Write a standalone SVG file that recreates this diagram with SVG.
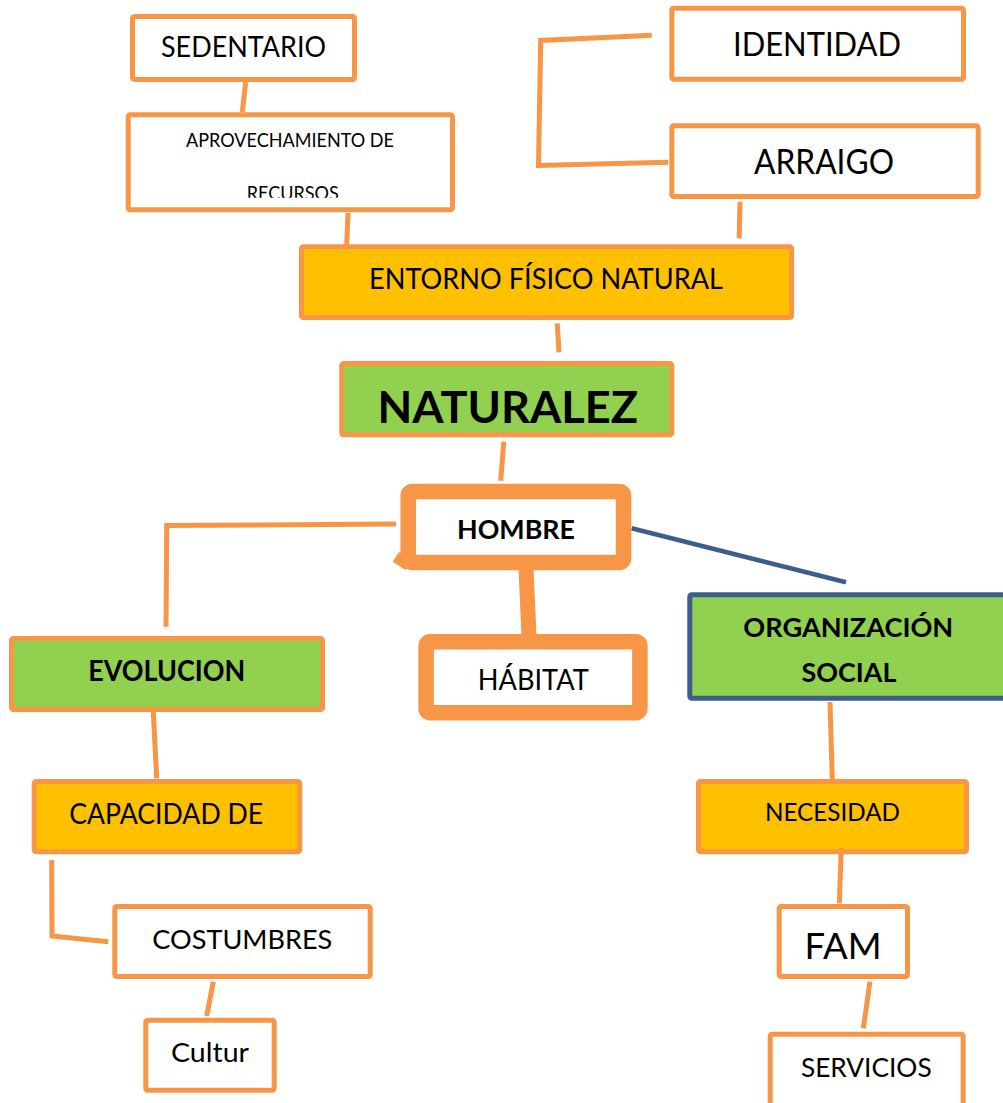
<svg xmlns="http://www.w3.org/2000/svg" width="1003" height="1103" viewBox="0 0 1003 1103">
<style>
.n{stroke:#F79646;stroke-width:5;fill:#FFFFFF}
.g{fill:#FFC000}
.v{fill:#92D050}
.thick{stroke-width:15.5}
.blue{stroke:#3B5E8C}
.t{font-family:Lato,"Open Sans","Liberation Sans",sans-serif;fill:#000;text-anchor:middle}
.b{font-weight:bold}
.c{fill:none;stroke:#F79646;stroke-width:5;stroke-linejoin:miter}
.ct{fill:none;stroke:#F79646;stroke-width:15}
.cb{fill:none;stroke:#3B5E8C;stroke-width:4.5}
</style>
<defs>
<clipPath id="clipRec"><rect x="130" y="150" width="320" height="47.7"/></clipPath>
<clipPath id="clipNat"><rect x="344" y="366" width="325" height="58.3"/></clipPath>
</defs>
<rect width="1003" height="1103" fill="#FFFFFF"/>
<g id="node-sedentario">
<rect class="n" x="132.5" y="16.5" width="222" height="63" rx="2"/>
<text class="t" x="243.5" y="57.3" font-size="28.7" textLength="165" lengthAdjust="spacingAndGlyphs">SEDENTARIO</text>
</g>
<g id="node-aprovechamiento">
<rect class="n" x="128.2" y="114.8" width="324.3" height="95" rx="2"/>
<text class="t" x="290" y="146.7" font-size="18.6" textLength="208" lengthAdjust="spacingAndGlyphs">APROVECHAMIENTO DE</text>
<text class="t" x="292.8" y="200" font-size="18.6" textLength="92" lengthAdjust="spacingAndGlyphs" clip-path="url(#clipRec)">RECURSOS</text>
</g>
<g id="node-identidad">
<rect class="n" x="671.8" y="8.2" width="291.7" height="71" rx="2"/>
<text class="t" x="817" y="56" font-size="33" textLength="168" lengthAdjust="spacingAndGlyphs">IDENTIDAD</text>
</g>
<g id="node-arraigo">
<rect class="n" x="671.8" y="125.8" width="306.4" height="70.7" rx="2"/>
<text class="t" x="824" y="174.3" font-size="34" textLength="140" lengthAdjust="spacingAndGlyphs">ARRAIGO</text>
</g>
<g id="node-entorno">
<rect class="n g" x="301.4" y="246.8" width="490.2" height="70.7" rx="2"/>
<text class="t" x="546" y="289.3" font-size="28.4" textLength="354" lengthAdjust="spacingAndGlyphs">ENTORNO FÍSICO NATURAL</text>
</g>
<g id="node-naturaleza">
<rect class="n v" x="341.7" y="363.5" width="330.1" height="71.3" rx="2"/>
<text class="t b" x="507.8" y="423.3" font-size="43.3" textLength="260.6" lengthAdjust="spacingAndGlyphs" clip-path="url(#clipNat)">NATURALEZ</text>
</g>
<g id="node-hombre">
<rect class="n thick" x="408.2" y="491.5" width="215.3" height="71" rx="4"/>
<polygon points="399,552 392.6,561.7 405.7,570 412,560" fill="#F79646"/>
<text class="t b" x="516" y="539.3" font-size="27" textLength="118" lengthAdjust="spacingAndGlyphs">HOMBRE</text>
</g>
<g id="node-habitat">
<rect class="n thick" x="426.1" y="641.8" width="213.8" height="71" rx="4"/>
<text class="t" x="533.3" y="690" font-size="28" textLength="111" lengthAdjust="spacingAndGlyphs">HÁBITAT</text>
</g>
<g id="node-evolucion">
<rect class="n v" x="11.5" y="638.5" width="311" height="71" rx="2"/>
<text class="t b" x="166.7" y="681" font-size="28" textLength="157" lengthAdjust="spacingAndGlyphs">EVOLUCION</text>
</g>
<g id="node-organizacion">
<rect class="n v blue" x="689.8" y="594.8" width="330" height="103.4" rx="2"/>
<text class="t b" x="848.3" y="636.7" font-size="26" textLength="210" lengthAdjust="spacingAndGlyphs">ORGANIZACIÓN</text>
<text class="t b" x="849" y="681.7" font-size="26.5" textLength="95" lengthAdjust="spacingAndGlyphs">SOCIAL</text>
</g>
<g id="node-necesidad">
<rect class="n g" x="698.5" y="781.5" width="268" height="70.3" rx="2"/>
<text class="t" x="832.5" y="821" font-size="24.7" textLength="135" lengthAdjust="spacingAndGlyphs">NECESIDAD</text>
</g>
<g id="node-capacidad">
<rect class="n g" x="34.2" y="781.5" width="265.6" height="70.3" rx="2"/>
<text class="t" x="166.2" y="824" font-size="28" textLength="194" lengthAdjust="spacingAndGlyphs">CAPACIDAD DE</text>
</g>
<g id="node-costumbres">
<rect class="n" x="114.8" y="906.5" width="255.4" height="70" rx="2"/>
<text class="t" x="242.3" y="949" font-size="27.5" textLength="180" lengthAdjust="spacingAndGlyphs">COSTUMBRES</text>
</g>
<g id="node-cultur">
<rect class="n" x="145.8" y="1020.2" width="128.4" height="70" rx="2"/>
<text class="t" x="210" y="1061.7" font-size="26.5" textLength="78" lengthAdjust="spacingAndGlyphs">Cultur</text>
</g>
<g id="node-fam">
<rect class="n" x="779.2" y="906.5" width="128.3" height="70" rx="2"/>
<text class="t" x="843" y="959" font-size="36.7" textLength="77" lengthAdjust="spacingAndGlyphs">FAM</text>
</g>
<g id="node-servicios">
<rect class="n" x="770.2" y="1034.2" width="193" height="80" rx="2"/>
<text class="t" x="866.3" y="1076.7" font-size="26.5" textLength="130.7" lengthAdjust="spacingAndGlyphs">SERVICIOS</text>
</g>
<g id="connectors">
<line class="c" x1="245.7" y1="82" x2="242.3" y2="112"/>
<line class="c" x1="348" y1="213" x2="346.7" y2="245"/>
<polyline class="c" points="651.7,35.3 540.7,40.5 538.5,165.5 668.3,162.3"/>
<line class="c" x1="740" y1="201.7" x2="739.2" y2="238.3"/>
<line class="c" x1="557.2" y1="323.3" x2="559" y2="352.3"/>
<line class="c" x1="503.8" y1="441.7" x2="500.7" y2="480.7"/>
<polyline class="c" points="396,524 166.7,525.5 166,626.7"/>
<line class="ct" x1="526" y1="568" x2="529" y2="636"/>
<line class="cb" x1="631.7" y1="528.3" x2="846" y2="582.3"/>
<line class="c" x1="153.3" y1="712" x2="156.7" y2="778.3"/>
<line class="c" x1="830" y1="702" x2="832.3" y2="780"/>
<polyline class="c" points="51.7,860 52,936 108.3,941.7"/>
<line class="c" x1="213.3" y1="981.7" x2="206.7" y2="1016"/>
<line class="c" x1="841.3" y1="847.7" x2="839.3" y2="903.3"/>
<line class="c" x1="870" y1="981.7" x2="863.3" y2="1028.3"/>
</g>
</svg>
